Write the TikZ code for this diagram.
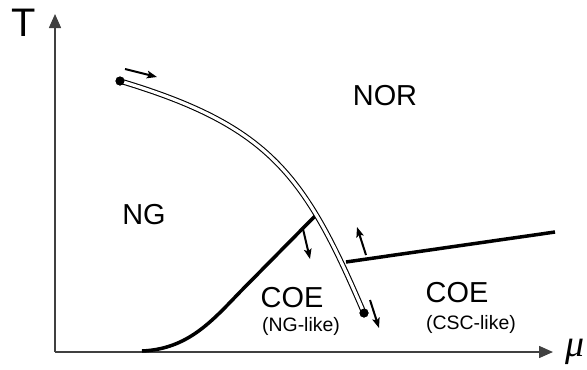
\documentclass[tikz,border=0pt]{standalone}
\usepackage{fontspec}
\setmainfont{Liberation Sans}
\newfontfamily\muserif{Liberation Serif}
\usetikzlibrary{arrows.meta}
\tikzset{
  axis/.style={line width=1.5bp, black!75, -{Triangle[length=14bp,width=12bp]}},
  phaseline/.style={line width=3.5bp, black},
  flowline/.style={line width=1.1bp, double=white, double distance=3.2bp},
  dirarrow/.style={line width=2bp, -{Stealth[length=10bp,width=7.5bp,inset=2bp]}},
  bigtxt/.style={font=\fontsize{29}{29}\selectfont, inner sep=0pt},
  smalltxt/.style={font=\fontsize{19.5}{19.5}\selectfont, inner sep=0pt},
  enddot/.style={circle, fill=black, inner sep=0pt, minimum size=9bp},
}
\begin{document}
\begin{tikzpicture}[x=1bp,y=-1bp]
\useasboundingbox (0,0) rectangle (587,369);
% axes
\coordinate (O) at (55,352);
\coordinate (Ttip) at (55,14);
\coordinate (Mtip) at (553,352);
\draw[axis] (O) -- (Ttip);
\draw[axis] (O) -- (Mtip);
\node[font=\fontsize{40}{40}\selectfont, inner sep=0pt, anchor=base] (Tlab) at (24,36.5) {T};
\node[font=\fontsize{38}{38}\selectfont\muserif\itshape, inner sep=0pt, anchor=base west] (mulab) at (565,356) {μ};
% NG -- COE boundary
\coordinate (a0) at (142,351);
\coordinate (a1) at (240,292);
\coordinate (a2) at (316,215);
\draw[phaseline] (a0) .. controls (188,349) and (212,321) .. (a1) -- (a2);
% COE(NG) -- COE(CSC) boundary
\coordinate (b0) at (346,262);
\coordinate (b1) at (555,232);
\draw[phaseline] (b0) -- (b1);
% double flow curve
\node[enddot] (s) at (120,81) {};
\node[enddot] (e) at (364,313) {};
\draw[flowline] (s.center) .. controls (270,126) and (305,175) .. (e.center);
\node[enddot] at (120,81) {};
\node[enddot] at (364,313) {};
% direction arrows
\coordinate (r0) at (125,69);
\coordinate (r1) at (157,77);
\draw[dirarrow] (r0) -- (r1);
\coordinate (d0) at (370,300);
\coordinate (d1) at (379,328);
\draw[dirarrow] (d0) -- (d1);
\coordinate (n0) at (303,229);
\coordinate (n1) at (310,259);
\draw[dirarrow] (n0) -- (n1);
\coordinate (c0) at (366,255);
\coordinate (c1) at (357,227);
\draw[dirarrow] (c0) -- (c1);
% labels
\node[bigtxt] (nor) at (385,96) {NOR};
\node[bigtxt] (ng) at (144,215) {NG};
\node[bigtxt] (coe1) at (292,298) {COE};
\node[smalltxt] (coe1s) at (301,326) {(NG-like)};
\node[bigtxt] (coe2) at (457,293) {COE};
\node[smalltxt] (coe2s) at (471,324) {(CSC-like)};
\end{tikzpicture}
\end{document}
